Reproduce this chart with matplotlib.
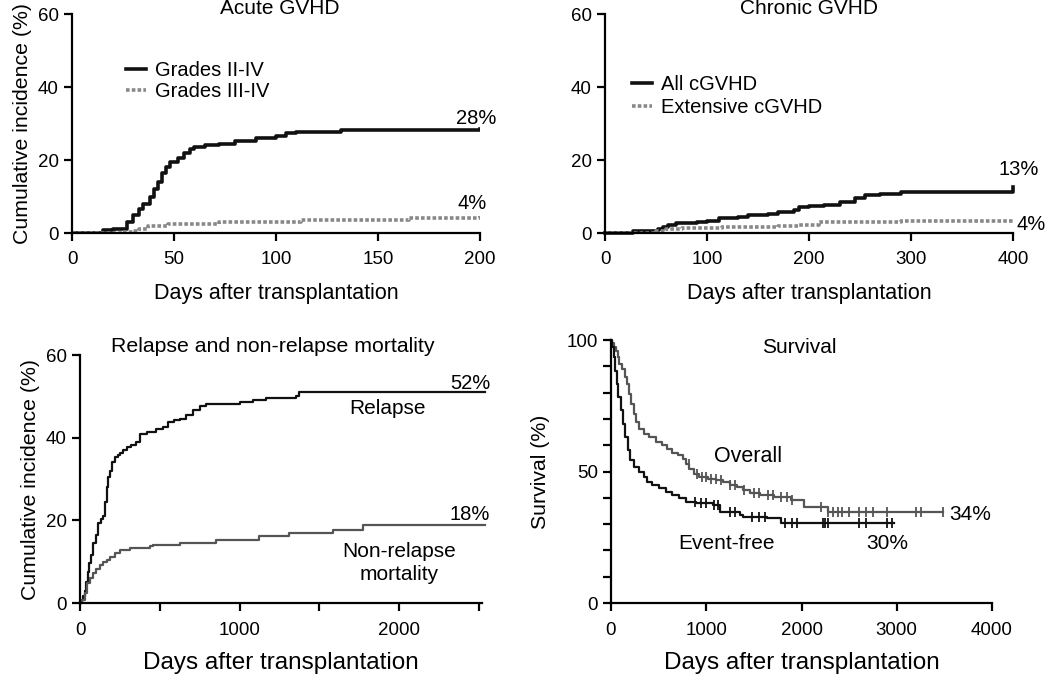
import numpy as np
import matplotlib.pyplot as plt

plt.rcParams["font.family"] = ["Liberation Sans", "DejaVu Sans"]

# Acute GVHD (days, cumulative incidence %)
agvhd24_days = [0, 15, 20, 25, 27, 30, 33, 35, 38, 40, 42, 44, 46, 48, 52, 55, 58, 60, 65, 72, 80, 90, 100, 105, 110, 132, 195, 200]
agvhd24_inc = [0, 0.8, 1, 1.2, 3, 5, 6.5, 8, 10, 12, 14, 16.5, 18, 19.5, 20.5, 22, 23, 23.5, 24, 24.5, 25.2, 26, 26.5, 27.3, 27.8, 28.3, 28.3, 28.6]
agvhd34_days = [0, 25, 30, 33, 37, 47, 72, 108, 112, 165, 197, 200]
agvhd34_inc = [0, 0.2, 0.5, 1, 2, 2.6, 3, 3, 3.6, 4, 4.2, 4.8]

# Chronic GVHD
cgvhd_days = [0, 27, 52, 57, 62, 70, 90, 100, 112, 130, 140, 160, 170, 185, 190, 200, 215, 230, 245, 255, 270, 290, 400]
cgvhd_inc = [0, 0.5, 1, 1.6, 2.1, 2.7, 3, 3.3, 4, 4.5, 5, 5.3, 5.7, 6.3, 7, 7.3, 7.8, 8.5, 9.5, 10.3, 10.8, 11.2, 12.5]
ext_days = [0, 50, 60, 75, 115, 170, 190, 210, 290, 400]
ext_inc = [0, 0.5, 1, 1.3, 1.6, 1.9, 2.3, 3, 3.3, 3.3]

# Relapse and NRM
rel_days = [0, 10, 21, 30, 40, 50, 58, 70, 83, 100, 115, 130, 146, 155, 167, 177, 187, 200, 219, 235, 250, 270, 292, 320,
            354, 375, 420, 479, 521, 552, 590, 625, 667, 708, 750, 792, 1000, 1083, 1167, 1354, 1375, 2540]
rel_inc = [0, 0.8, 1.6, 3, 5, 7.5, 9.7, 11.5, 14.5, 16.5, 19.3, 20.3, 21, 24.5, 28, 30.5, 32, 34, 35.4, 35.8, 36.2, 37, 37.8,
           38.3, 39, 41, 41.3, 42, 42.7, 43.8, 44.2, 44.5, 45.5, 46.8, 47.6, 48.2, 48.7, 49.1, 49.5, 50, 51, 51]
nrm_days = [0, 15, 30, 42, 60, 83, 100, 125, 145, 167, 190, 219, 250, 312, 437, 458, 625, 854, 1125, 1312, 1583, 1771, 2540]
nrm_inc = [0, 0.8, 2.5, 4.8, 6, 7.2, 8.3, 9.3, 10, 10.5, 11.2, 12, 12.9, 13.3, 13.7, 14.1, 14.5, 15.3, 16.1, 16.9, 17.7, 18.9, 18.9]

# Survival
os_days = [0, 15, 35, 50, 71, 85, 113, 142, 167, 191, 213, 238, 266, 298, 344, 397, 468, 539, 592, 645, 699, 752, 787,
           823, 876, 929, 1018, 1106, 1177, 1248, 1319, 1390, 1461, 1567, 1709, 1887, 2028, 2170, 2277, 3482]
os_surv = [100, 98.8, 97.2, 96, 93.4, 90.9, 89, 85.9, 83.3, 79.5, 75.8, 72, 68.8, 66.3, 64.4, 63.1, 61.2, 60, 58.7, 57,
           56.2, 54.9, 53, 51.1, 49.2, 48, 47.3, 46.7, 46.1, 44.8, 44.2, 42.9, 41.7, 41, 40.4, 39.1, 36.6, 36.6, 34.7, 34.7]
efs_days = [0, 14, 28, 43, 60, 78, 103, 124, 149, 174, 202, 238, 291, 344, 379, 433, 504, 574, 645, 716, 787, 894, 1071,
            1142, 1355, 1390, 1638, 1780, 2968]
efs_surv = [100, 97.2, 93.4, 88.4, 83.3, 78.3, 73.2, 68.2, 63.1, 58.1, 54.3, 51.8, 49.9, 48, 46.1, 44.8, 43.6, 42.3, 41,
            39.8, 38.5, 37.9, 37.2, 34.7, 33.5, 32.8, 32.2, 30.3, 30.3]
os_censor = [820, 900, 960, 1000, 1050, 1100, 1150, 1250, 1300, 1400, 1500, 1550, 1650, 1700, 1780, 1850, 1900,
             2200, 2280, 2330, 2380, 2430, 2500, 2600, 2680, 2750, 2900, 3200, 3250, 3480]
efs_censor = [880, 950, 1000, 1080, 1120, 1250, 1300, 1480, 1550, 1620, 1830, 1900, 1950, 2230, 2250, 2280,
              2600, 2680, 2900, 2950]

TICK_FS = 13.5
TXT_FS = 15
PCT_FS = 14.5


def style_axes(ax, pad=7):
    for s in ["top", "right"]:
        ax.spines[s].set_visible(False)
    for s in ["left", "bottom"]:
        ax.spines[s].set_linewidth(1.6)
    ax.tick_params(width=1.6, length=6, labelsize=TICK_FS)
    ax.tick_params(axis="x", pad=pad)


def step_value(days, vals, t):
    idx = np.searchsorted(days, t, side="right") - 1
    return vals[max(idx, 0)]


fig = plt.figure(figsize=(10.5, 6.78), dpi=100)

# Acute GVHD
ax1 = fig.add_axes([0.0686, 0.6563, 0.3886, 0.3230])
ax1.step(agvhd24_days, agvhd24_inc, where="post", color="#111111", lw=2.6, label="Grades II-IV")
ax1.step(agvhd34_days, agvhd34_inc, where="post", color="#888888", lw=2.6, ls=(0, (1, 0.6)), label="Grades III-IV")
ax1.set_xlim(0, 200)
ax1.set_ylim(0, 60)
ax1.set_xticks([0, 50, 100, 150, 200])
ax1.set_yticks([0, 20, 40, 60])
style_axes(ax1)
ax1.set_xlabel("Days after transplantation", fontsize=15.5, labelpad=11)
ax1.set_ylabel("Cumulative incidence (%)", fontsize=15.3, labelpad=4)
ax1.legend(loc="upper left", bbox_to_anchor=(0.132, 0.786), frameon=False, fontsize=14.5,
           handlelength=1.0, handletextpad=0.45, labelspacing=0.1, borderpad=0, borderaxespad=0)
ax1.text(102, 61.5, "Acute GVHD", ha="center", va="center", fontsize=TXT_FS)
ax1.text(198, 31.5, "28%", ha="center", va="center", fontsize=PCT_FS)
ax1.text(196, 8.2, "4%", ha="center", va="center", fontsize=PCT_FS)

# Chronic GVHD
ax2 = fig.add_axes([0.5762, 0.6563, 0.3886, 0.3230])
ax2.step(cgvhd_days, cgvhd_inc, where="post", color="#111111", lw=2.6, label="All cGVHD", clip_on=False)
ax2.step(ext_days, ext_inc, where="post", color="#888888", lw=2.6, ls=(0, (1, 0.6)), label="Extensive cGVHD")
ax2.set_xlim(0, 400)
ax2.set_ylim(0, 60)
ax2.set_xticks([0, 100, 200, 300, 400])
ax2.set_yticks([0, 20, 40, 60])
style_axes(ax2)
ax2.set_xlabel("Days after transplantation", fontsize=15.5, labelpad=11)
ax2.legend(loc="upper left", bbox_to_anchor=(0.066, 0.721), frameon=False, fontsize=14.5,
           handlelength=1.0, handletextpad=0.45, labelspacing=0.2, borderpad=0, borderaxespad=0)
ax2.text(200, 61.5, "Chronic GVHD", ha="center", va="center", fontsize=TXT_FS)
ax2.text(406, 17.3, "13%", ha="center", va="center", fontsize=PCT_FS, clip_on=False)
ax2.text(403, 2.2, "4%", ha="left", va="center", fontsize=PCT_FS, clip_on=False)

# Relapse and non-relapse mortality
ax3 = fig.add_axes([0.0762, 0.1106, 0.3829, 0.3658])
ax3.step(rel_days, rel_inc, where="post", color="#111111", lw=1.6, clip_on=False)
ax3.step(nrm_days, nrm_inc, where="post", color="#555555", lw=1.6, clip_on=False)
ax3.set_xlim(0, 2520)
ax3.set_ylim(0, 60)
ax3.set_xticks([0, 500, 1000, 1500, 2000, 2500])
ax3.set_xticklabels(["0", "", "1000", "", "2000", ""])
ax3.set_yticks([0, 20, 40, 60])
style_axes(ax3, pad=8)
ax3.set_xlabel("Days after transplantation", fontsize=17.5, labelpad=9)
ax3.set_ylabel("Cumulative incidence (%)", fontsize=15.3, labelpad=4)
ax3.text(1210, 62, "Relapse and non-relapse mortality", ha="center", va="center", fontsize=15.3, clip_on=False)
ax3.text(2444, 53.2, "52%", ha="center", va="center", fontsize=PCT_FS)
ax3.text(1927, 47, "Relapse", ha="center", va="center", fontsize=TXT_FS)
ax3.text(2444, 21.3, "18%", ha="center", va="center", fontsize=PCT_FS)
ax3.text(2000, 9.6, "Non-relapse\nmortality", ha="center", va="center", fontsize=TXT_FS, linespacing=1.25)

# Survival
ax4 = fig.add_axes([0.5819, 0.1106, 0.3629, 0.3879])
ax4.step(os_days, os_surv, where="post", color="#555555", lw=1.6, clip_on=False)
ax4.step(efs_days, efs_surv, where="post", color="#111111", lw=1.6, clip_on=False)
os_cy = [step_value(os_days, os_surv, t) for t in os_censor]
efs_cy = [step_value(efs_days, efs_surv, t) for t in efs_censor]
ax4.plot(os_censor, os_cy, ls="none", marker="|", ms=7, mew=1.3, color="#555555")
ax4.plot(efs_censor, efs_cy, ls="none", marker="|", ms=7, mew=1.3, color="#111111")
ax4.set_xlim(0, 4000)
ax4.set_ylim(0, 100)
ax4.set_xticks([0, 1000, 2000, 3000, 4000])
ax4.set_yticks(np.arange(0, 101, 10))
ax4.set_yticklabels(["0", "", "", "", "", "50", "", "", "", "", "100"])
style_axes(ax4, pad=8)
ax4.set_xlabel("Days after transplantation", fontsize=17.5, labelpad=9)
ax4.set_ylabel("Survival (%)", fontsize=15.3, labelpad=12)
ax4.text(1975, 97, "Survival", ha="center", va="center", fontsize=TXT_FS)
ax4.text(1443, 55.8, "Overall", ha="center", va="center", fontsize=15.5)
ax4.text(1213, 22.7, "Event-free", ha="center", va="center", fontsize=TXT_FS)
ax4.text(3766, 33.5, "34%", ha="center", va="center", fontsize=TXT_FS)
ax4.text(2897, 22.7, "30%", ha="center", va="center", fontsize=TXT_FS)

fig.savefig("out.png", dpi=100)
